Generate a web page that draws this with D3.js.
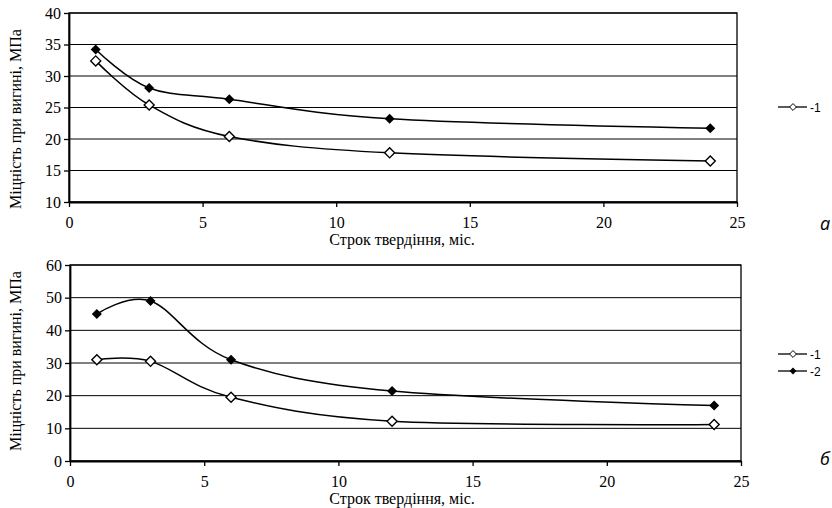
<!DOCTYPE html>
<html>
<head>
<meta charset="utf-8">
<script src="https://cdn.jsdelivr.net/npm/d3@7"></script>
<style>
  body { margin: 0; background: #fff; }
  svg { display: block; }
</style>
</head>
<body>
<svg id="chart" width="832" height="508"></svg>
<script>
// curing age, months
const months = [1, 3, 6, 12, 24];

// panel а
const topSeries1 = [32.4, 25.4, 20.4, 17.8, 16.5];
const topSeries2 = [34.2, 28.1, 26.3, 23.2, 21.7];
const topTicksY = [10, 15, 20, 25, 30, 35, 40];

// panel б
const bottomSeries1 = [31.0, 30.5, 19.5, 12.2, 11.2];
const bottomSeries2 = [45.0, 49.0, 31.0, 21.4, 17.0];
const bottomTicksY = [0, 10, 20, 30, 40, 50, 60];

const ticksX = [0, 5, 10, 15, 20, 25];
const xTitle = 'Строк твердіння, міс.';
const yTitle = 'Міцність при вигині, МПа';

var serif = 'Liberation Serif';
var sans = 'Liberation Sans';

var svg = d3.select('#chart');

function drawPanel(p) {
  var x = d3.scaleLinear().domain([0, 25]).range([p.left, p.right]);
  var y = d3.scaleLinear().domain(d3.extent(p.ticksY)).range([p.bottom, p.top]);
  var g = svg.append('g');

  // horizontal grid
  g.selectAll('line.grid')
    .data(p.ticksY)
    .enter()
    .append('line')
    .attr('x1', p.left).attr('x2', p.right)
    .attr('y1', d => y(d)).attr('y2', d => y(d))
    .attr('stroke', '#000')
    .attr('stroke-width', 1);

  // frame
  g.append('rect')
    .attr('x', p.left).attr('y', p.top)
    .attr('width', p.right - p.left).attr('height', p.bottom - p.top)
    .attr('fill', 'none')
    .attr('stroke', '#000')
    .attr('stroke-width', 1.3);

  // axes with outward ticks
  var yAxis = d3.axisLeft(y).tickValues(p.ticksY).tickSize(5).tickSizeOuter(0).tickPadding(3);
  var xAxis = d3.axisBottom(x).tickValues(ticksX).tickSize(5).tickSizeOuter(0).tickPadding(10);

  var ya = g.append('g').attr('transform', 'translate(' + p.left + ',0)').call(yAxis);
  var xa = g.append('g').attr('transform', 'translate(0,' + p.bottom + ')').call(xAxis);
  [ya, xa].forEach(function(a) {
    a.attr('font-family', null).attr('font-size', null);
    a.select('.domain').attr('stroke', '#000').attr('stroke-width', 1.8);
    a.selectAll('.tick line').attr('stroke', '#000').attr('stroke-width', 1.3);
    a.selectAll('.tick text')
      .attr('fill', '#000')
      .style('font-family', serif)
      .style('font-size', '16px');
  });

  // smoothed lines
  var line = d3.line()
    .x((d, i) => x(months[i]))
    .y(d => y(d))
    .curve(d3.curveCardinal.tension(0));

  [p.series1, p.series2].forEach(function(s) {
    g.append('path')
      .datum(s)
      .attr('d', line)
      .attr('fill', 'none')
      .attr('stroke', '#000')
      .attr('stroke-width', 1.5);
  });

  var diamond = d3.symbol().type(d3.symbolDiamond2);

  // markers, series 2 filled
  g.selectAll('path.m2')
    .data(p.series2)
    .enter()
    .append('path')
    .attr('d', diamond.size(64))
    .attr('transform', (d, i) => 'translate(' + x(months[i]) + ',' + y(d) + ')')
    .attr('fill', '#000');

  // markers, series 1 open
  g.selectAll('path.m1')
    .data(p.series1)
    .enter()
    .append('path')
    .attr('d', diamond.size(64))
    .attr('transform', (d, i) => 'translate(' + x(months[i]) + ',' + y(d) + ')')
    .attr('fill', '#fff')
    .attr('stroke', '#000')
    .attr('stroke-width', 1.4);

  // titles
  g.append('text')
    .style('font-family', serif).style('font-size', '16px')
    .attr('x', 402).attr('y', p.bottom + 43)
    .attr('text-anchor', 'middle')
    .text(xTitle);

  g.append('text')
    .style('font-family', serif).style('font-size', '16px')
    .attr('transform', 'translate(21,' + p.yTitleCenter + ') rotate(-90)')
    .attr('text-anchor', 'middle')
    .text(yTitle);

  // legend
  var lg = g.selectAll('g.legend')
    .data(p.legend)
    .enter()
    .append('g')
    .attr('transform', (d, i) => 'translate(778,' + (p.legendY + i * 17) + ')');
  lg.append('line')
    .attr('x1', 0).attr('x2', 29)
    .attr('stroke', '#000').attr('stroke-width', 1.3);
  lg.append('path')
    .attr('d', d3.symbol().type(d3.symbolDiamond2).size(30))
    .attr('transform', 'translate(15,0)')
    .attr('fill', d => d.filled ? '#000' : '#fff')
    .attr('stroke', '#000')
    .attr('stroke-width', d => d.filled ? 0 : 1);
  lg.append('text')
    .style('font-family', sans).style('font-size', '12px')
    .attr('x', 32).attr('y', 4.5)
    .text(d => d.label);

  g.append('text')
    .style('font-family', 'Open Sans').style('font-style', 'italic').style('font-size', '18px')
    .attr('x', 820).attr('y', p.letterY)
    .text(p.letter);
}

drawPanel({
  left: 69, right: 737, top: 13, bottom: 202,
  ticksY: topTicksY,
  series1: topSeries1, series2: topSeries2,
  yTitleCenter: 119,
  legend: [{ label: '-1', filled: false }],
  legendY: 107,
  letter: 'а', letterY: 230
});

drawPanel({
  left: 70, right: 741, top: 265, bottom: 461,
  ticksY: bottomTicksY,
  series1: bottomSeries1, series2: bottomSeries2,
  yTitleCenter: 361,
  legend: [{ label: '-1', filled: false }, { label: '-2', filled: true }],
  legendY: 354,
  letter: 'б', letterY: 465
});
</script>
</body>
</html>
